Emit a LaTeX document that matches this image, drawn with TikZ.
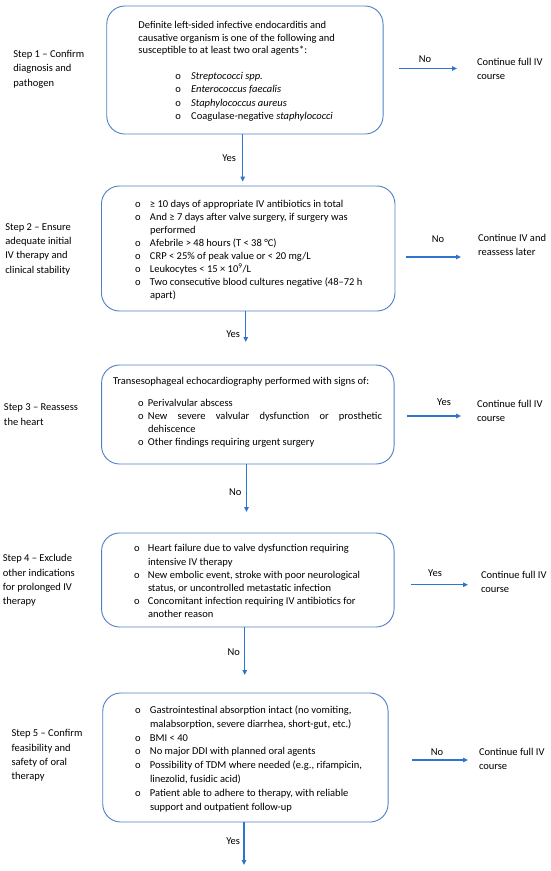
\documentclass[tikz,border=0pt]{standalone}
\usepackage{fontspec}
\setmainfont{Carlito}
\usetikzlibrary{arrows.meta,calc}
\definecolor{boxc}{HTML}{4F7FC4}
\definecolor{arrc}{HTML}{2E75D0}
\newcommand\bul[1]{\makebox[#1][l]{o}}
\begin{document}
\begin{tikzpicture}[x=1pt,y=-1pt,
  every node/.style={inner sep=0pt,outer sep=0pt,font=\fontsize{10.5pt}{13.3pt}\selectfont},
  box/.style={draw=boxc,line width=0.9pt,rounded corners=18pt},
  arr/.style={draw=arrc,line width=1.2pt,-{Triangle[length=5pt,width=4.5pt]}},
  lbl/.style={anchor=west,align=left,font=\fontsize{10.5pt}{14.3pt}\selectfont},
  cont/.style={anchor=west,align=left,font=\fontsize{10.5pt}{14pt}\selectfont}]
\useasboundingbox (0,0) rectangle (550,871);

% boxes
\node[box,minimum width=276.3pt,minimum height=128pt] (b1) at (244.9,70) {};
\node[box,minimum width=293.5pt,minimum height=125pt] (b2) at (248.2,248.5) {};
\node[box,minimum width=292.5pt,minimum height=99pt] (b3) at (247.8,414.5) {};
\node[box,minimum width=292.5pt,minimum height=94pt] (b4) at (247.8,580) {};
\node[box,minimum width=285.3pt,minimum height=129pt] (b5) at (245.4,757.5) {};

% box 1 text
\node[anchor=base west,font=\fontsize{10.5pt}{12.7pt}\selectfont] (t1) at (138.4,28.5)
 {\begin{tabular}[t]{@{}l@{}}Definite left-sided infective endocarditis and\\
 causative organism is one of the following and\\
 susceptible to at least two oral agents*:\end{tabular}};
\node[anchor=base west] (l1) at (175.4,79.5)
 {\begin{tabular}[t]{@{}l@{}l@{}}\bul{15.8pt}&\textit{Streptococci spp.}\\
 \bul{15.8pt}&\textit{Enterococcus faecalis}\\
 \bul{15.8pt}&\textit{Staphylococcus aureus}\\
 \bul{15.8pt}&Coagulase-negative \textit{staphylococci}\end{tabular}};

% box 2 text
\node[anchor=base west,font=\fontsize{10.5pt}{13pt}\selectfont] (l2) at (135,207.5)
 {\begin{tabular}[t]{@{}l@{}l@{}}\bul{15pt}&≥ 10 days of appropriate IV antibiotics in total\\
 \bul{15pt}&And ≥ 7 days after valve surgery, if surgery was\\
 &performed\\
 \bul{15pt}&Afebrile > 48 hours (T < 38 °C)\\
 \bul{15pt}&CRP < 25\% of peak value or < 20 mg/L\\
 \bul{15pt}&Leukocytes < 15 × 10\textsuperscript{9}/L\\
 \bul{15pt}&Two consecutive blood cultures negative (48–72 h\\
 &apart)\end{tabular}};

% box 3 text
\node[anchor=base west] (t3) at (113,384.5) {Transesophageal echocardiography performed with signs of:};
\node[anchor=base west,font=\fontsize{10.5pt}{13pt}\selectfont] (l3) at (138,406.5)
 {\begin{tabular}[t]{@{}l@{}l@{}}\bul{10pt}&Perivalvular abscess\\
 \bul{10pt}&\makebox[234pt][s]{New severe valvular dysfunction or prosthetic}\\
 &dehiscence\\
 \bul{10pt}&Other findings requiring urgent surgery\end{tabular}};

% box 4 text
\node[anchor=base west,font=\fontsize{10.5pt}{13.2pt}\selectfont] (l4) at (134,551.8)
 {\begin{tabular}[t]{@{}l@{}l@{}}\bul{14pt}&Heart failure due to valve dysfunction requiring\\
 &intensive IV therapy\\
 \bul{14pt}&New embolic event, stroke with poor neurological\\
 &status, or uncontrolled metastatic infection\\
 \bul{14pt}&Concomitant infection requiring IV antibiotics for\\
 &another reason\end{tabular}};

% box 5 text
\node[anchor=base west,font=\fontsize{10.5pt}{13.8pt}\selectfont] (l5) at (135,713.5)
 {\begin{tabular}[t]{@{}l@{}l@{}}\bul{15pt}&Gastrointestinal absorption intact (no vomiting,\\
 &malabsorption, severe diarrhea, short-gut, etc.)\\
 \bul{15pt}&BMI < 40\\
 \bul{15pt}&No major DDI with planned oral agents\\
 \bul{15pt}&Possibility of TDM where needed (e.g., rifampicin,\\
 &linezolid, fusidic acid)\\
 \bul{15pt}&Patient able to adhere to therapy, with reliable\\
 &support and outpatient follow-up\end{tabular}};

% step labels
\node[lbl] (s1) at (13.4,69) {Step 1 – Confirm\\diagnosis and\\pathogen};
\node[lbl] (s2) at (5.3,249) {Step 2 – Ensure\\adequate initial\\IV therapy and\\clinical stability};
\node[lbl] (s3) at (4,414.5) {Step 3 – Reassess\\the heart};
\node[lbl] (s4) at (2.8,580.5) {Step 4 – Exclude\\other indications\\for prolonged IV\\therapy};
\node[lbl] (s5) at (11.6,755.5) {Step 5 – Confirm\\feasibility and\\safety of oral\\therapy};

% outcome texts
\node[cont] (c1) at (477,68.5) {Continue full IV\\course};
\node[cont] (c2) at (478,245) {Continue IV and\\reassess later};
\node[cont] (c3) at (477,411) {Continue full IV\\course};
\node[cont] (c4) at (481,582) {Continue full IV\\course};
\node[cont] (c5) at (479,758.7) {Continue full IV\\course};

% side arrows
\draw[arr] ($(b1.east)+(16,-1.5)$) -- ($(c1.west)+(-20,0)$);
\draw[arr] ($(b2.east)+(10.6,8.5)$) -- ($(c2.west)+(-17,12)$);
\draw[arr] ($(b3.east)+(13,1.5)$) -- ($(c3.west)+(-16,5)$);
\draw[arr] ($(b4.east)+(17,4.7)$) -- ($(c4.west)+(-13,2.7)$);
\draw[arr] ($(b5.east)+(24,2.5)$) -- ($(c5.west)+(-11,1.3)$);
\node (n1) at (425,59) {No};
\node (n2) at (438,239) {No};
\node (n3) at (444,402) {Yes};
\node (n4) at (435,573) {Yes};
\node (n5) at (437,752) {No};

% down arrows
\draw[arr,shorten >=4.3pt] ($(b1.south)+(-2.2,0)$) -- ($(b1.south|-b2.north)+(-2.2,0)$);
\draw[arr,shorten >=23pt] ($(b2.south)+(-2.4,0)$) -- ($(b2.south|-b3.north)+(-2.4,0)$);
\draw[arr,shorten >=21pt] ($(b3.south)+(-1.3,0)$) -- ($(b3.south|-b4.north)+(-1.3,0)$);
\draw[arr,shorten >=18pt] ($(b4.south)+(-3.1,0)$) -- ($(b4.south|-b5.north)+(-3.1,0)$);
\coordinate (e5) at (244,865);
\draw[arr] ($(b5.south)+(-1.4,0)$) -- (e5);
\node[anchor=east] (y1) at (236,158) {Yes};
\node[anchor=east] (y2) at (240,334) {Yes};
\node[anchor=east] (y3) at (241.5,492) {No};
\node[anchor=east] (y4) at (240,652.5) {No};
\node[anchor=east] (y5) at (240,841) {Yes};
\end{tikzpicture}
\end{document}
